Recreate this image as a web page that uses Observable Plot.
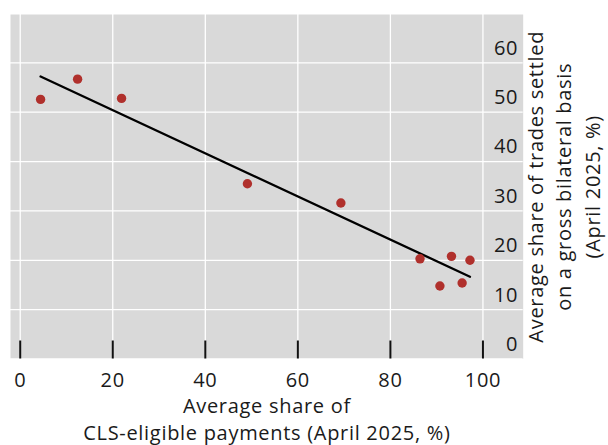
<!DOCTYPE html>
<html>
<head>
<meta charset="utf-8">
<script src="https://cdn.jsdelivr.net/npm/d3@7"></script>
<script src="https://cdn.jsdelivr.net/npm/@observablehq/plot@0.6"></script>
<style>
  html, body { margin: 0; padding: 0; background: #fff; }
  svg { font-family: "Open Sans", sans-serif; }
  svg text { letter-spacing: 0.7px; }
</style>
</head>
<body>
<div id="chart"></div>
<script>
// CLS-eligible payments share (%), x
const clsShare = [4.4, 12.4, 21.9, 49.1, 69.3, 86.4, 93.2, 97.2, 90.7, 95.5];
// Share of trades settled on a gross bilateral basis (%), y
const grossShare = [52.6, 56.7, 52.8, 35.5, 31.6, 20.3, 20.8, 20.0, 14.8, 15.4];
const xTicks = [0, 20, 40, 60, 80, 100];
const yTicks = [0, 10, 20, 30, 40, 50, 60];
const xTitle = "Average share of\nCLS-eligible payments (April 2025, %)";
const yTitle = "Average share of trades settled\non a gross bilateral basis\n(April 2025, %)";

const data = clsShare.map((x, i) => ({x, y: grossShare[i]}));

const W = 608, H = 445;
const mT = 14, mB = 86.5, mL = 10, mR = 85.3;
const frameH = H - mT - mB;
const FS = 20;

const chart = Plot.plot({
  width: W,
  height: H,
  marginTop: mT,
  marginBottom: mB,
  marginLeft: mL,
  marginRight: mR,
  style: {fontFamily: "Open Sans", fontSize: FS + "px", color: "#1a1a1a", background: "#fff"},
  x: {domain: [-2.1, 108.7], ticks: xTicks},
  y: {domain: [0, 69.8], ticks: yTicks},
  marks: [
    Plot.frame({fill: "#d9d9d9", stroke: null}),
    Plot.gridX(xTicks, {stroke: "#fff", strokeOpacity: 1, strokeWidth: 1.3}),
    Plot.gridY(yTicks, {stroke: "#fff", strokeOpacity: 1, strokeWidth: 1.3}),
    Plot.ruleX(xTicks, {stroke: "#111", strokeWidth: 2, insetTop: frameH - 18}),
    Plot.axisX(xTicks, {tickSize: 0, tickPadding: 14, fontSize: FS, fill: "#1a1a1a", label: null}),
    Plot.axisY(yTicks, {anchor: "right", tickSize: 0, tickPadding: 0, textAnchor: "end", dx: -5, dy: -14.5, fontSize: FS, fill: "#1a1a1a", label: null}),
    Plot.linearRegressionY(data, {x: "x", y: "y", ci: 0, stroke: "#000", strokeWidth: 2.3}),
    Plot.dot(data, {x: "x", y: "y", r: 4.7, fill: "#b0302c", stroke: null}),
    Plot.text([xTitle], {frameAnchor: "bottom", dy: 35, textAnchor: "middle", lineAnchor: "top", lineHeight: 1.35, fontSize: FS, fill: "#1a1a1a"}),
    Plot.text([yTitle], {frameAnchor: "right", dx: -0.5, rotate: -90, textAnchor: "middle", lineAnchor: "top", lineHeight: 1.42, fontSize: FS, fill: "#1a1a1a"})
  ]
});
document.getElementById("chart").appendChild(chart);
</script>
</body>
</html>
